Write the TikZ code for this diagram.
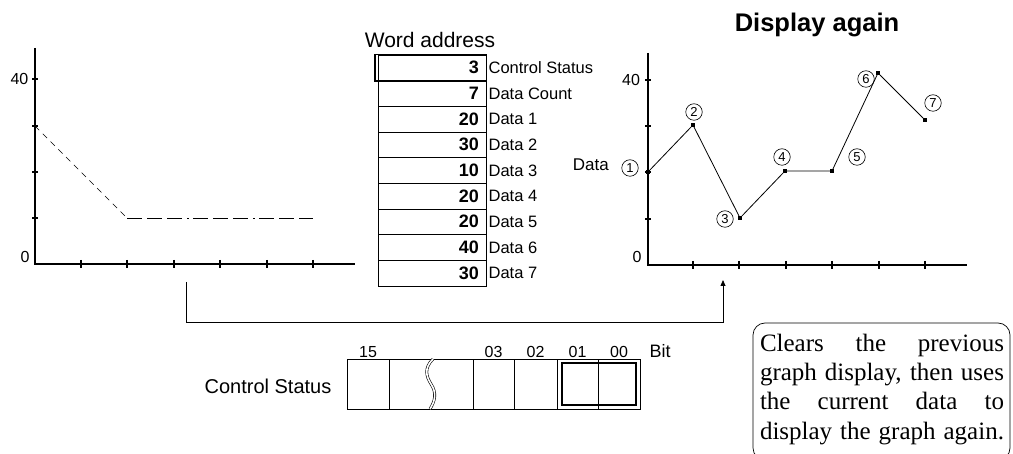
\documentclass[tikz,border=0pt]{standalone}
\usepackage{fontspec}
\setmainfont{Liberation Sans}
\newfontfamily\boxfont{Liberation Serif}
\usetikzlibrary{arrows.meta}

\tikzset{
  axis/.style={line width=1.3pt},
  tick/.style={line width=1.7pt},
  dot/.style={fill, inner sep=0pt, minimum size=3.5pt},
  num/.style={draw, circle, inner sep=0pt, minimum size=16.5pt, line width=.6pt, font=\fontsize{13}{13}\selectfont},
  word/.style={draw, line width=.8pt, minimum height=25.67pt, text width=94pt, inner xsep=7pt, align=right, font=\fontsize{18}{18}\selectfont\bfseries},
  wlabel/.style={anchor=west, inner sep=2pt, font=\fontsize{16.5}{18}\selectfont},
  small/.style={font=\fontsize{16}{18}\selectfont},
  cell/.style={draw, line width=.8pt, minimum height=50pt, inner sep=0pt},
  boxline/.style={anchor=base, inner sep=0pt, font=\boxfont\fontsize{25}{25}\selectfont},
}

\begin{document}
\begin{tikzpicture}[x=1pt, y=-1pt]
   \useasboundingbox (0,0) rectangle (1013,454);

   % graph before
   \coordinate (O1) at (35,264);
   \draw[axis] (35,48) -- (O1) -- (355,264);
   \foreach \y in {79,126,172,218} \draw[tick] (32,\y) -- (38,\y);
   \foreach \x in {81,127,174,220,267,313} \draw[tick] (\x,260) -- (\x,268);
   \node[small] (A40) at (19.5,79) {40};
   \node[small] (A0) at (25,257) {0};
   \draw[line width=.7pt, dash pattern=on 6pt off 5pt] (35,126) -- (81,172) -- (127,218);
   \draw[line width=.7pt, dash pattern=on 15pt off 5pt on 15pt off 5pt on 15pt off 5pt on 2pt off 4pt] (127,218) -- (313,218);

   % word address table
   \node[font=\fontsize{21}{21}\selectfont] (WA) at (430,40) {Word address};
   \node[word] (R0) at (432,67.8) {3};
   \node[word] (R1) at (432,93.5) {7};
   \node[word] (R2) at (432,119.2) {20};
   \node[word] (R3) at (432,144.8) {30};
   \node[word] (R4) at (432,170.5) {10};
   \node[word] (R5) at (432,196.2) {20};
   \node[word] (R6) at (432,221.8) {20};
   \node[word] (R7) at (432,247.5) {40};
   \node[word] (R8) at (432,273.2) {30};
   \draw[line width=1.8pt] ([xshift=-3pt]R0.north west) rectangle (R0.south east);
   \node[wlabel] at (R0.east) {Control Status};
   \node[wlabel] at (R1.east) {Data Count};
   \node[wlabel] at (R2.east) {Data 1};
   \node[wlabel] at (R3.east) {Data 2};
   \node[wlabel] at (R4.east) {Data 3};
   \node[wlabel] at (R5.east) {Data 4};
   \node[wlabel] at (R6.east) {Data 5};
   \node[wlabel] at (R7.east) {Data 6};
   \node[wlabel] at (R8.east) {Data 7};

   % graph after
   \node[font=\fontsize{25.5}{26}\selectfont\bfseries] (DA) at (817,25) {Display again};
   \coordinate (O2) at (648,265);
   \draw[axis] (648,53) -- (O2) -- (967,265);
   \foreach \y in {80,126,172,219} \draw[tick] (645,\y) -- (651,\y);
   \foreach \x in {693,739,786,832,879,925} \draw[tick] (\x,261) -- (\x,269);
   \node[small] (B40) at (631,80) {40};
   \node[small] (B0) at (637,257) {0};
   \node[dot] (P1) at (648,172) {};
   \node[dot] (P2) at (693,125) {};
   \node[dot] (P3) at (740,218) {};
   \node[dot] (P4) at (785,171) {};
   \node[dot] (P5) at (832,171) {};
   \node[dot] (P6) at (878,73) {};
   \node[dot] (P7) at (925,120) {};
   \draw[line width=.8pt] (P1) -- (P2) -- (P3) -- (P4) -- (P5) -- (P6) -- (P7);
   \node[num] (C1) at (630,168) {1};
   \node[num] (C2) at (694,112) {2};
   \node[num] (C3) at (725,219) {3};
   \node[num] (C4) at (782,157) {4};
   \node[num] (C5) at (857,157) {5};
   \node[num] (C6) at (866,79) {6};
   \node[num] (C7) at (933,103) {7};
   \node[anchor=east, inner sep=0pt, font=\fontsize{17}{17}\selectfont] (DL) at (609,165) {Data};

   % connector
   \coordinate (S) at (186,282);
   \coordinate (T) at (723,280);
   \draw[line width=.8pt, -{Triangle[length=6pt, width=5pt]}] (S) -- ++(0,40) -| (T);

   % control status bits
   \node[font=\fontsize{20}{20}\selectfont] (CS) at (268,386) {Control Status};
   \node[cell, minimum width=42pt] (B15) at (368,384) {};
   \node[cell, minimum width=84pt] (BX) at (431,384) {};
   \node[cell, minimum width=41pt] (B03) at (493.5,384) {};
   \node[cell, minimum width=43pt] (B02) at (535.5,384) {};
   \node[cell, minimum width=41pt] (B01) at (577.5,384) {};
   \node[cell, minimum width=42pt] (B00) at (619,384) {};
   \draw[double, double distance=1.6pt, line width=.6pt] (433,359) .. controls (424,368) and (426,376) .. (431,384) .. controls (437,393) and (435,401) .. (430,409);
   \draw[line width=1.8pt] (562,363) rectangle (636,405);
   \node[small, above, inner sep=1pt] at (B15.north) {15};
   \node[small, above, inner sep=1pt] at (B03.north) {03};
   \node[small, above, inner sep=1pt] at (B02.north) {02};
   \node[small, above, inner sep=1pt] at (B01.north) {01};
   \node[small, above, inner sep=1pt] at (B00.north) {00};
   \node[font=\fontsize{18}{18}\selectfont] (BIT) at (660,351) {Bit};

   % note
   \begin{scope}
      \clip (0,0) rectangle (1013,454);
      \draw[rounded corners=12pt, line width=.7pt] (753,323) rectangle (1010,460);
   \end{scope}
   \node[boxline] (L1) at (882,352) {\makebox[244pt][s]{Clears the previous}};
   \node[boxline] (L2) at (882,381) {\makebox[244pt][s]{graph display, then uses}};
   \node[boxline] (L3) at (882,410) {\makebox[244pt][s]{the current data to}};
   \node[boxline] (L4) at (882,439) {\makebox[244pt][s]{display the graph again.}};
\end{tikzpicture}
\end{document}
